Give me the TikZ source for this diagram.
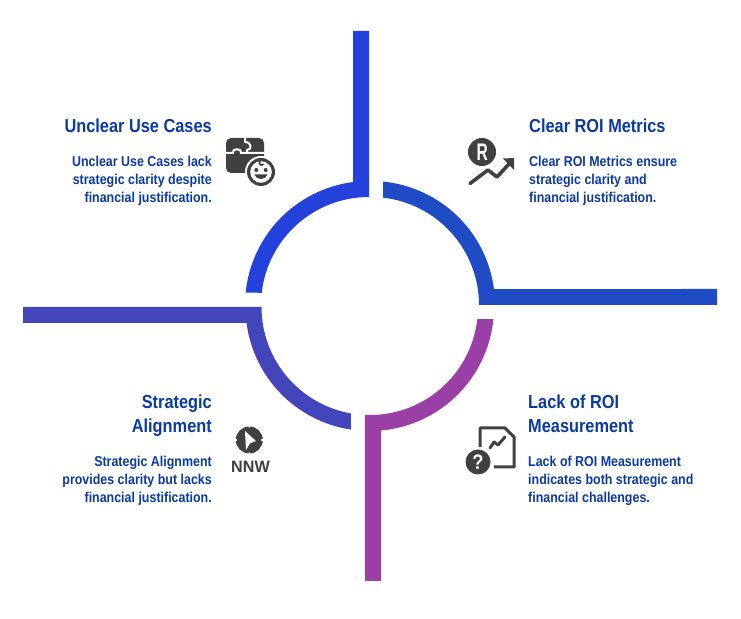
\documentclass[tikz,border=0pt]{standalone}
\usepackage{fontspec}
\setmainfont[FakeStretch=0.87,BoldFont={Liberation Sans Bold}]{Liberation Sans}
\newfontfamily\narrowf[FakeStretch=0.65]{Liberation Sans Bold}
\newfontfamily\widef[FakeStretch=0.98]{Liberation Sans Bold}
\definecolor{txt}{HTML}{0B3AA0}
\definecolor{ico}{HTML}{404040}
\definecolor{cUL}{HTML}{2541DC}
\definecolor{cUR}{HTML}{1F4CC4}
\definecolor{cLR}{HTML}{9A3FA5}
\definecolor{cLL}{HTML}{4346BA}
\tikzset{
 title/.style={inner sep=0pt,text=txt,font=\fontsize{18.8}{24}\selectfont\bfseries},
 body/.style={inner sep=0pt,text=txt,font=\fontsize{14.3}{18}\selectfont\bfseries},
}
\begin{document}
\begin{tikzpicture}[x=1pt,y=1pt]
\useasboundingbox (0,0) rectangle (741,618);
\fill[white] (0,0) rectangle (741,618);
\coordinate (c1) at (369,313);
\coordinate (c2) at (371,313);
\coordinate (c3) at (370,311);
\coordinate (c4) at (369.5,311);
% upper left
\fill[cUL] (369,587) -- ([shift={(90:108)}]c1) arc[start angle=90,end angle=173.5,radius=108pt]
 -- ([shift={(174.3:124)}]c1) arc[start angle=174.3,end angle=97.4,radius=124pt] -- (353,587) -- cycle;
% upper right
\fill[cUR] ([shift={(83.6:108)}]c2) arc[start angle=83.6,end angle=0,radius=108pt] -- (717,313) -- (717,329)
 -- ([shift={(7.4:124)}]c2) arc[start angle=7.4,end angle=84.4,radius=124pt] -- cycle;
% lower right
\fill[cLR] ([shift={(-6.4:108)}]c3) arc[start angle=-6.4,end angle=-92.7,radius=108pt] -- (365,37) -- (381,37)
 -- ([shift={(-84.9:124)}]c3) arc[start angle=-84.9,end angle=-5.6,radius=124pt] -- cycle;
% lower left
\fill[cLL] (23,311) -- ([shift={(180:108)}]c4) arc[start angle=180,end angle=260.1,radius=108pt]
 -- ([shift={(261.4:124)}]c4) arc[start angle=261.4,end angle=187.4,radius=124pt] -- (23,295) -- cycle;
% texts
\node[title,anchor=base east] (t1) at (212,485) {Unclear Use Cases};
\node[body,anchor=north east,align=right] (b1) at (212,461.7) {Unclear Use Cases lack\\strategic clarity despite\\financial justification.};
\node[title,anchor=base west] (t2) at (529,485) {Clear ROI Metrics};
\node[body,anchor=north west,align=left] (b2) at (529,461.7) {Clear ROI Metrics ensure\\strategic clarity and\\financial justification.};
\node[title,anchor=north east,align=right] (t3) at (212,223.5) {Strategic\\Alignment};
\node[body,anchor=north east,align=right] (b3) at (212,161.7) {Strategic Alignment\\provides clarity but lacks\\financial justification.};
\node[title,anchor=north west,align=left] (t4) at (528,223.5) {Lack of ROI\\Measurement};
\node[body,anchor=north west,align=left] (b4) at (528,161.7) {Lack of ROI Measurement\\indicates both strategic and\\financial challenges.};
% icon: puzzle + face
\fill[ico,rounded corners=5pt] (226,480) rectangle (264,445);
\draw[white,line width=2pt] (226,465) -- (233,465) .. controls (231,470) and (243,470) .. (241,465) -- (247,465) -- (264,465);
\draw[white,line width=2pt] (245,480) -- (245,476) .. controls (252,476) and (252,468) .. (247,468) -- (247,465);
\fill[white] (261,446) circle (16);
\fill[ico] (261,446) circle (14);
\fill[white] (261,446) circle (10.8);
\fill[ico] (256.3,448) circle (2) (265.7,448) circle (2);
\fill[ico] (254.5,443.5) .. controls (256,437.5) and (266,437.5) .. (267.5,443.5) -- cycle;
\draw[ico,line width=1.6pt] (260,457) .. controls (258,453.5) and (262,451.5) .. (263.5,454);
% icon: R + arrow
\fill[ico] (482,466) circle (14);
\node[inner sep=0pt,text=white,font=\fontsize{24}{24}\selectfont\narrowf] (r) at (482.2,466) {R};
\draw[ico,line width=3.6pt,line cap=round,line join=round] (470,434.5) -- (488,448) -- (497,441) -- (509,454);
\fill[ico] (503,459.5) -- (514,460) -- (514,448) -- cycle;
% icon: cursor NNW
\fill[ico] (249.3,178) circle (13.5);
\fill[white] (245,187) -- (256,177) -- (250,174.7) -- (246,168) -- cycle;
\foreach \a in {90,180,270,0}{\draw[white,line width=1.2pt] ([shift={(\a:12)}]249.3,178) -- ([shift={(\a:15)}]249.3,178);}
\node[inner sep=0pt,text=ico,font=\fontsize{16.5}{16.5}\selectfont\widef] (n) at (250.5,151) {NNW};
% icon: document
\draw[ico,line width=3pt,line join=round] (480,171) -- (480,190) -- (505,190) -- (514,181) -- (514,151) -- (494,151);
\draw[ico,line width=3pt,line cap=round,line join=round] (490,170) -- (494,176) -- (498,173) -- (505,181);
\fill[ico] (478,156) circle (12.5);
\node[inner sep=0pt,text=white,font=\fontsize{21}{21}\selectfont\bfseries] (q) at (478,156) {?};
\end{tikzpicture}
\end{document}
